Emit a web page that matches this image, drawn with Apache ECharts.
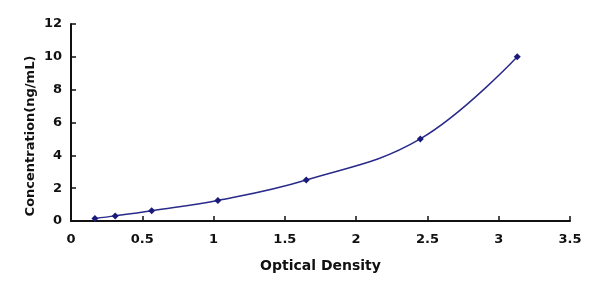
<!DOCTYPE html>
<html><head><meta charset="utf-8">
<script src="https://cdn.jsdelivr.net/npm/echarts@6/dist/echarts.min.js"></script>
<style>html,body{margin:0;padding:0;background:#fff}#c{width:600px;height:294px}</style>
</head><body><div id="c"></div>
<script>
const odValues = [0.168, 0.31, 0.566, 1.03, 1.65, 2.45, 3.13];
const concentrations = [0.156, 0.312, 0.625, 1.25, 2.5, 5, 10];
const xTicks = [0, 0.5, 1, 1.5, 2, 2.5, 3, 3.5];
const yTicks = [0, 2, 4, 6, 8, 10, 12];

const chart = echarts.init(document.getElementById('c'));
const font = 'DejaVu Sans, Verdana, sans-serif';
chart.setOption({
  animation: false,
  grid: {left: 71, right: 30, top: 24, bottom: 73},
  graphic: [{
    type: 'text', x: 31, y: 136, rotation: Math.PI / 2,
    style: {text: 'Concentration(ng/mL)', font: 'bold 13px DejaVu Sans', fill: '#111', align: 'center', verticalAlign: 'middle'}
  }],
  xAxis: {
    type: 'value', min: 0, max: 3.5, interval: 0.5,
    name: 'Optical Density', nameLocation: 'middle', nameGap: 38,
    nameTextStyle: {fontFamily: font, fontWeight: 'bold', fontSize: 14, color: '#111'},
    axisLine: {lineStyle: {color: '#111', width: 2}},
    axisTick: {inside: true, length: 5, lineStyle: {color: '#111', width: 1.5}},
    axisLabel: {fontFamily: font, fontWeight: 'bold', fontSize: 13, color: '#111', margin: 12},
    splitLine: {show: false}
  },
  yAxis: {
    type: 'value', min: 0, max: 12, interval: 2,
    axisLine: {show: true, lineStyle: {color: '#111', width: 2}},
    axisTick: {show: true, inside: true, length: 5, lineStyle: {color: '#111', width: 1.5}},
    axisLabel: {fontFamily: font, fontWeight: 'bold', fontSize: 13, color: '#111', margin: 9},
    splitLine: {show: false}
  },
  series: [{
    type: 'line', smooth: 0.4,
    data: odValues.map((x, i) => [x, concentrations[i]]),
    symbol: 'diamond', symbolSize: 7,
    itemStyle: {color: '#1a1a7a'},
    lineStyle: {color: '#2a2a8a', width: 1.5}
  }]
});
</script></body></html>
